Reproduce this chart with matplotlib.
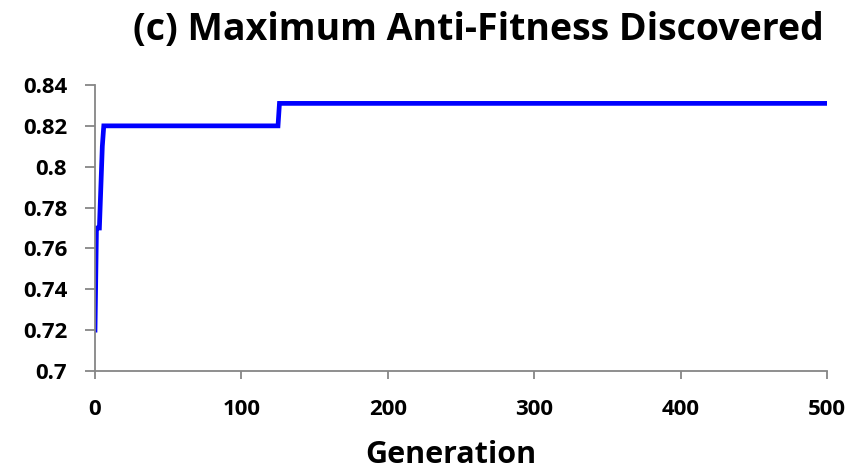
import matplotlib
matplotlib.use("Agg")
import matplotlib.pyplot as plt

# best anti-fitness found so far, sampled at the generations where it changes
generation = [0, 1, 3, 4, 5, 6, 125, 126, 500]
max_anti_fitness = [0.72, 0.77, 0.77, 0.79, 0.81, 0.82, 0.82, 0.831, 0.831]

x_ticks = [0, 100, 200, 300, 400, 500]
y_ticks = [0.7, 0.72, 0.74, 0.76, 0.78, 0.8, 0.82, 0.84]
y_tick_labels = ["0.7", "0.72", "0.74", "0.76", "0.78", "0.8", "0.82", "0.84"]

plt.rcParams["font.family"] = ["Open Sans", "DejaVu Sans"]
plt.rcParams["font.weight"] = "bold"

fig = plt.figure(figsize=(8.54, 4.70), dpi=100)
ax = fig.add_axes([95 / 854, 1 - 371 / 470, (827 - 95) / 854, (371 - 85) / 470])

ax.plot(generation, max_anti_fitness, color="#0000ff", linewidth=3.4,
        solid_joinstyle="miter")

ax.set_xlim(0, 500)
ax.set_ylim(0.7, 0.84)
ax.set_xticks(x_ticks)
ax.set_yticks(y_ticks)
ax.set_yticklabels(y_tick_labels)

grey = "#868686"
for side in ("top", "right"):
    ax.spines[side].set_visible(False)
for side in ("left", "bottom"):
    ax.spines[side].set_color(grey)
    ax.spines[side].set_linewidth(1.3)
ax.tick_params(axis="both", colors=grey, labelcolor="black", width=1.3,
               labelsize=16, direction="out")
ax.tick_params(axis="y", length=7, pad=13)
ax.tick_params(axis="x", length=6, pad=14)
for lbl in ax.get_xticklabels() + ax.get_yticklabels():
    lbl.set_fontweight("bold")

ax.set_xlabel("Generation", fontsize=22, fontweight="bold")
ax.xaxis.label.set_va("center")
ax.xaxis.set_label_coords(0.486, -(455 - 371) / 286)

fig.text(478 / 854, 1 - 30 / 470, "(c) Maximum Anti-Fitness Discovered",
         ha="center", va="center", fontsize=27, fontweight="bold")

fig.savefig("out.png", dpi=100)
